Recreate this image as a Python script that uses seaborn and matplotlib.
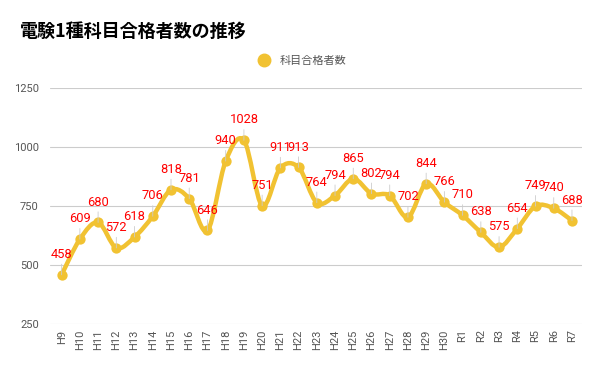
import matplotlib.pyplot as plt
import matplotlib.path as mpath
import matplotlib.patches as mpatches
from matplotlib.lines import Line2D
import seaborn as sns
import pandas as pd
import numpy as np

years = ['H9', 'H10', 'H11', 'H12', 'H13', 'H14', 'H15', 'H16', 'H17', 'H18',
         'H19', 'H20', 'H21', 'H22', 'H23', 'H24', 'H25', 'H26', 'H27', 'H28',
         'H29', 'H30', 'R1', 'R2', 'R3', 'R4', 'R5', 'R6', 'R7']
passed = [458, 609, 680, 572, 618, 706, 818, 781, 646, 940,
          1028, 751, 911, 913, 764, 794, 865, 802, 794, 702,
          844, 766, 710, 638, 575, 654, 749, 740, 688]
yticks = [250, 500, 750, 1000, 1250]

sns.set_style("white")
plt.rcParams['font.family'] = ['Noto Sans CJK JP', 'DejaVu Sans']

YELLOW = '#F1C232'
GRAY = '#555555'

df = pd.DataFrame({'x': np.arange(len(years)), 'y': passed})

fig = plt.figure(figsize=(6, 3.71), dpi=100)
ax = fig.add_axes([0.083, 0.127, 0.887, 0.636])

# smooth curve through the points (cubic bezier, catmull-rom style)
pts = df[['x', 'y']].to_numpy(dtype=float)
verts = [pts[0]]
codes = [mpath.Path.MOVETO]
n = len(pts)
for i in range(n - 1):
    p0 = pts[max(i - 1, 0)]
    p1 = pts[i]
    p2 = pts[i + 1]
    p3 = pts[min(i + 2, n - 1)]
    c1 = p1 + (p2 - p0) / 6
    c2 = p2 - (p3 - p1) / 6
    verts += [c1, c2, p2]
    codes += [mpath.Path.CURVE4] * 3
curve = mpatches.PathPatch(mpath.Path(verts, codes), facecolor='none',
                           edgecolor=YELLOW, linewidth=3.2, capstyle='round',
                           joinstyle='round', zorder=3)
ax.add_patch(curve)

sns.scatterplot(data=df, x='x', y='y', ax=ax, color=YELLOW, s=55,
                edgecolor=YELLOW, linewidth=0, zorder=4, legend=False)

# data labels with leader lines
for xi, yi in zip(df['x'], df['y']):
    ax.annotate(str(yi), xy=(xi, yi), xytext=(0, 10), textcoords='offset points',
                ha='center', va='bottom', color='#FF0000', fontsize=9.3,
                family=['Roboto', 'DejaVu Sans'], zorder=5,
                arrowprops=dict(arrowstyle='-', color='#CCCCCC', lw=0.6,
                                shrinkA=0, shrinkB=0))

ax.set_xlim(-0.65, len(years) - 0.45)
ax.set_ylim(250, 1250)
ax.set_yticks(yticks)
ax.set_yticklabels([str(v) for v in yticks], family=['Roboto', 'DejaVu Sans'])
ax.set_xticks(df['x'])
ax.set_xticklabels(years, rotation=90, family=['Roboto', 'DejaVu Sans'])
ax.tick_params(axis='both', length=0, labelsize=8, colors=GRAY)
ax.tick_params(axis='x', pad=4)
ax.tick_params(axis='y', pad=8)
ax.grid(axis='y', color='#CCCCCC', linewidth=0.8)
ax.set_axisbelow(True)
ax.set_xlabel(None)
ax.set_ylabel(None)
for s in ax.spines.values():
    s.set_visible(False)

fig.text(0.033, 0.915, '電験1種科目合格者数の推移', fontsize=13, fontweight='bold',
         color='black', va='center', ha='left')

handle = Line2D([], [], marker='o', linestyle='none', markersize=9,
                markerfacecolor=YELLOW, markeredgecolor=YELLOW)
fig.legend([handle], ['科目合格者数'], loc='center', bbox_to_anchor=(0.5, 0.835),
           frameon=False, fontsize=8, labelcolor=GRAY, handletextpad=0.4)

fig.savefig('out.png', dpi=100)
